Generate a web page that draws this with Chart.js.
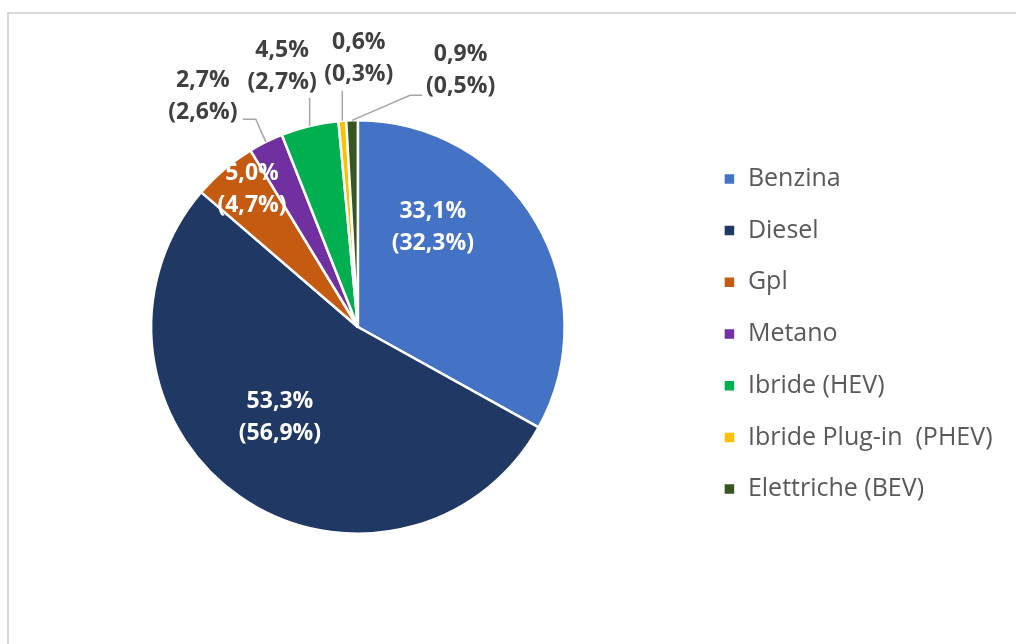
<!DOCTYPE html>
<html>
<head>
<meta charset="utf-8">
<script src="https://cdn.jsdelivr.net/npm/chart.js@4"></script>
<style>
  html, body { margin: 0; padding: 0; background: #fff; }
  #wrap { position: relative; width: 1016px; height: 644px; overflow: hidden; }
  #frame { position: absolute; left: 7px; top: 12px; right: -10px; bottom: -10px;
           border-top: 2px solid #d9d9d9; border-left: 2px solid #d9d9d9; }
  #chart { position: absolute; left: 0; top: 0; }
</style>
</head>
<body>
<div id="wrap">
  <div id="frame"></div>
  <canvas id="chart" width="1016" height="644"></canvas>
</div>
<script>
const categories = ['Benzina', 'Diesel', 'Gpl', 'Metano', 'Ibride (HEV)', 'Ibride Plug-in  (PHEV)', 'Elettriche (BEV)'];
const shares = [33.1, 53.3, 5.0, 2.7, 4.5, 0.6, 0.9];
const sharesPrev = [32.3, 56.9, 4.7, 2.6, 2.7, 0.3, 0.5];
const colors = ['#4472C4', '#203864', '#C55A11', '#7030A0', '#00B050', '#FFC000', '#375623'];

// where each label sits: angle (deg, clockwise from top) and distance in radii
const labelPlace = [
    { angle: 36.9, dist: 0.604, color: '#ffffff' },
    { angle: 220.6, dist: 0.579, color: '#ffffff' },
    { angle: 322.5, dist: 0.841, color: '#ffffff' },
    { angle: 326.1, dist: 1.344, color: '#404040' },
    { angle: 343.8, dist: 1.313, color: '#404040' },
    { angle: 0.2, dist: 1.297, color: '#404040' },
    { angle: 21.8, dist: 1.338, color: '#404040' },
];
// leader lines: points relative to the slice's outer edge (px)
const leaders = [null, null, null,
    [[-10, -22.6], [-23, -22.6]],
    [[0, -28]],
    [[0, -30]],
    [[58, -25], [70, -25]],
];

const fmt = (v) => v.toFixed(1).replace('.', ',') + '%';

const pieLabels = {
    id: 'pieLabels',
    afterDatasetsDraw(chart) {
        const ctx = chart.ctx;
        const arcs = chart.getDatasetMeta(0).data;
        ctx.save();
        arcs.forEach((arc, i) => {
            const cx = arc.x, cy = arc.y, r = arc.outerRadius;
            const mid = (arc.startAngle + arc.endAngle) / 2;
            if (leaders[i]) {
                const ex = cx + r * Math.cos(mid), ey = cy + r * Math.sin(mid);
                ctx.beginPath();
                ctx.moveTo(ex, ey);
                leaders[i].forEach(p => ctx.lineTo(ex + p[0], ey + p[1]));
                ctx.strokeStyle = '#a6a6a6';
                ctx.lineWidth = 1.5;
                ctx.stroke();
            }
            const p = labelPlace[i];
            const a = p.angle * Math.PI / 180;
            const x = cx + p.dist * r * Math.sin(a);
            const y = cy - p.dist * r * Math.cos(a);
            ctx.fillStyle = p.color;
            ctx.font = 'bold 23px "Open Sans"';
            ctx.textAlign = 'center';
            ctx.textBaseline = 'middle';
            ctx.fillText(fmt(shares[i]), x, y - 16);
            ctx.fillText('(' + fmt(sharesPrev[i]) + ')', x, y + 16);
        });
        ctx.restore();
    }
};

const legendShift = {
    id: 'legendShift',
    afterLayout(chart) {
        chart.legend.top += 7;
        chart.legend.bottom += 7;
    }
};

new Chart(document.getElementById('chart'), {
    type: 'pie',
    data: {
        labels: categories,
        datasets: [{
            data: shares,
            backgroundColor: colors,
            borderColor: '#ffffff',
            borderWidth: 2.5,
            hoverOffset: 0,
        }],
    },
    options: {
        responsive: false,
        animation: false,
        layout: { padding: { left: 19, right: 13.5, top: 119, bottom: 109 } },
        plugins: {
            tooltip: { enabled: false },
            legend: {
                position: 'right',
                labels: {
                    boxWidth: 12,
                    boxHeight: 12,
                    padding: 26.7,
                    color: '#595959',
                    font: { family: '"Open Sans"', size: 25 },
                },
            },
        },
    },
    plugins: [pieLabels, legendShift],
});
</script>
</body>
</html>
